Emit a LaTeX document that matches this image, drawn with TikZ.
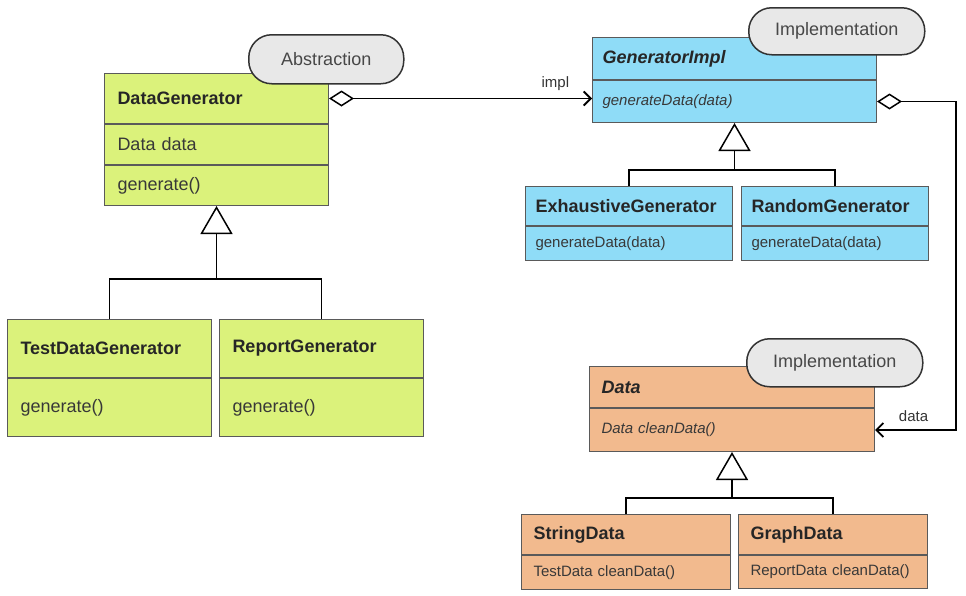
\documentclass[tikz,border=0pt]{standalone}
\usepackage{fontspec}
\setmainfont{Liberation Sans}
\usetikzlibrary{arrows.meta,positioning}
\definecolor{absgreen}{HTML}{DBF27B}
\definecolor{impblue}{HTML}{8FDCF7}
\definecolor{datorange}{HTML}{F2BA8E}
\definecolor{pillgray}{HTML}{E8E8E8}
\definecolor{boxline}{HTML}{5A5A5A}

\begin{document}
\begin{tikzpicture}[x=1pt,y=-1pt,
		cell/.style={draw=boxline,line width=1pt,anchor=north west,inner ysep=0pt,align=left,text=black!85},
		green/.style={cell,fill=absgreen,inner xsep=13pt},
		blue/.style={cell,fill=impblue,inner xsep=10pt},
		orange/.style={cell,fill=datorange,inner xsep=12pt},
		clsname/.style={font=\fontsize{18}{21}\selectfont\bfseries},
		txt/.style={font=\fontsize{18}{21}\selectfont,text=black!78},
		txtsmall/.style={font=\fontsize{15}{18}\selectfont,text=black!78},
		pill/.style={draw=black!80,line width=1.5pt,fill=pillgray,rounded corners=23pt,text=black!72,
			font=\fontsize{18}{21}\selectfont,anchor=north west,inner sep=0pt},
		link/.style={line width=1.8pt},
		aggr/.style={link,{Diamond[open,length=25pt,width=16pt,line width=1.5pt]}-{Straight Barb[length=7pt,width=14pt]}},
		inh/.style={link,-{Triangle[open,length=28pt,width=32pt,line width=1.5pt]}}]
	\useasboundingbox (0,0) rectangle (966,595);

	% abstraction side
	\node[green,clsname,text width=198pt,minimum height=50pt] (dg) at (104,73) {DataGenerator};
	\node[green,txt,text width=198pt,minimum height=40pt] (dga) at (dg.south west) {Data data};
	\node[green,txt,text width=198pt,minimum height=40pt] (dgo) at (dga.south west) {generate()};
	\node[green,clsname,text width=178pt,minimum height=58pt] (tdg) at (7,319) {TestDataGenerator};
	\node[green,txt,text width=178pt,minimum height=58pt] (tdgo) at (tdg.south west) {generate()};
	\node[green,clsname,text width=178pt,minimum height=58pt] (rg) at (219,319) {ReportGenerator};
	\node[green,txt,text width=178pt,minimum height=58pt] (rgo) at (rg.south west) {generate()};

	% generator implementation
	\node[blue,clsname,text width=264pt,minimum height=42pt] (gi) at (592,37) {\itshape GeneratorImpl};
	\node[blue,txtsmall,text width=264pt,minimum height=42pt] (gio) at (gi.south west) {\itshape generateData(data)};
	\node[blue,clsname,text width=187pt,minimum height=39pt] (ex) at (525,186) {ExhaustiveGenerator};
	\node[blue,txtsmall,text width=187pt,minimum height=34pt] (exo) at (ex.south west) {generateData(data)};
	\node[blue,clsname,text width=167pt,minimum height=39pt] (rnd) at (741,186) {RandomGenerator};
	\node[blue,txtsmall,text width=167pt,minimum height=34pt] (rndo) at (rnd.south west) {generateData(data)};

	% data implementation
	\node[orange,clsname,text width=261pt,minimum height=41pt] (dat) at (589,366) {\itshape Data};
	\node[orange,txtsmall,text width=261pt,minimum height=43pt] (dato) at (dat.south west) {\itshape Data cleanData()};
	\node[orange,clsname,text width=185pt,minimum height=40pt] (sd) at (521,514) {StringData};
	\node[orange,txtsmall,text width=185pt,minimum height=34pt] (sdo) at (sd.south west) {TestData cleanData()};
	\node[orange,clsname,text width=165pt,minimum height=40pt] (gd) at (738,514) {GraphData};
	\node[orange,txtsmall,text width=165pt,minimum height=33pt] (gdo) at (gd.south west) {ReportData cleanData()};

	\node[pill,minimum width=155pt,minimum height=49pt] (abs) at (248,34) {Abstraction};
	\node[pill,minimum width=176pt,minimum height=47pt] (imp) at (748,7) {Implementation};
	\node[pill,minimum width=176pt,minimum height=48pt] (impd) at (746,338) {Implementation};

	% associations
	\draw[aggr] (dg.east) -- (dg.east -| gio.west)
		node[pos=1,anchor=south east,inner sep=0pt,xshift=-22pt,yshift=7pt,txtsmall,text=black!80] (implab) {impl};
	\draw[aggr] (gio.east) -- ++(79,0) |- (dato.east)
		node[pos=1,anchor=south west,inner sep=0pt,xshift=23pt,yshift=7pt,txtsmall,text=black!80] (datlab) {data};

	% inheritance
	\coordinate (jg) at ([yshift=-73pt]dgo.south);
	\coordinate (jb) at ([yshift=-47pt]gio.south);
	\coordinate (jo) at ([yshift=-46pt]dato.south);
	\draw[link] (tdg.north) |- (jg) -| (rg.north);
	\draw[inh] (jg) -- (dgo.south);
	\draw[link] (ex.north) |- (jb) -| (rnd.north);
	\draw[inh] (jb) -- (gio.south);
	\draw[link] (sd.north) |- (jo) -| (gd.north);
	\draw[inh] (jo) -- (dato.south);
\end{tikzpicture}
\end{document}
